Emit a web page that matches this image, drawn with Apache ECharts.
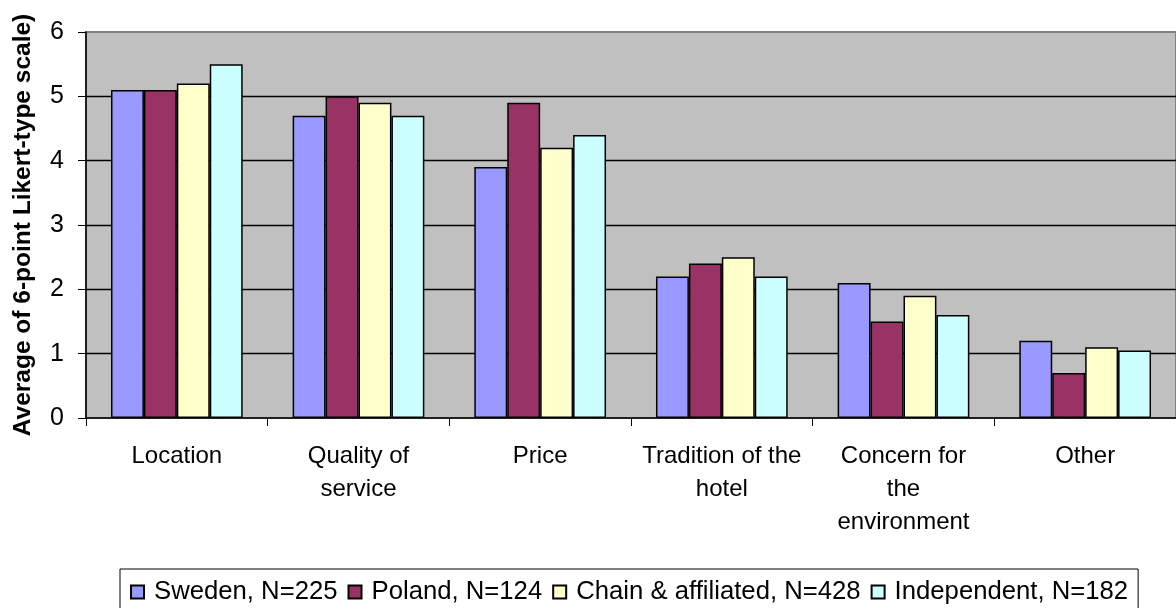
<!DOCTYPE html>
<html>
<head>
<meta charset="utf-8">
<script src="https://cdn.jsdelivr.net/npm/echarts@6/dist/echarts.min.js"></script>
<style>
html,body{margin:0;padding:0;background:#fff;}
#c{width:1176px;height:608px;}
</style>
</head>
<body>
<div id="c"></div>
<script>
const categories = ["Location", "Quality of\nservice", "Price", "Tradition of the\nhotel", "Concern for\nthe\nenvironment", "Other"];
const seriesNames = ["Sweden, N=225", "Poland, N=124", "Chain & affiliated, N=428", "Independent, N=182"];
const sweden = [5.1, 4.7, 3.9, 2.2, 2.1, 1.2];
const poland = [5.1, 5.0, 4.9, 2.4, 1.5, 0.7];
const chain = [5.2, 4.9, 4.2, 2.5, 1.9, 1.1];
const independent = [5.5, 4.7, 4.4, 2.2, 1.6, 1.05];
const yTicks = [0, 1, 2, 3, 4, 5, 6];
const colors = ["#9999FF", "#993366", "#FFFFCC", "#CCFFFF"];
const yAxisName = "Average of 6-point Likert-type scale)";

const values = [sweden, poland, chain, independent];
const FONT = '"Liberation Sans", Arial, sans-serif';

const chart = echarts.init(document.getElementById('c'), null, {renderer: 'canvas'});
chart.setOption({
  animation: false,
  backgroundColor: '#ffffff',
  grid: {
    left: 86, top: 32, width: 1093, bottom: 190,
    show: true, backgroundColor: '#c0c0c0', borderColor: '#808080', borderWidth: 2,
    containLabel: false
  },
  legend: {
    left: 120, top: 569, width: 1018,
    padding: [10, 10, 10, 10],
    itemGap: 10, itemWidth: 13, itemHeight: 13,
    icon: 'rect',
    backgroundColor: '#ffffff', borderColor: '#000000', borderWidth: 1,
    textStyle: {fontFamily: FONT, fontSize: 25.7, color: '#000', padding: [0, 0, 0, 5]},
    data: seriesNames
  },
  xAxis: {
    type: 'category',
    data: categories,
    axisLine: {show: true, lineStyle: {color: '#000', width: 1.5}},
    axisTick: {show: true, alignWithLabel: false, interval: 0, length: 8, lineStyle: {color: '#000', width: 1}},
    axisLabel: {interval: 0, margin: 22, fontFamily: FONT, fontSize: 24, color: '#000', lineHeight: 33},
    splitLine: {show: false}
  },
  yAxis: {
    type: 'value',
    min: yTicks[0], max: yTicks[yTicks.length - 1], interval: 1,
    name: yAxisName,
    nameLocation: 'middle', nameRotate: 90, nameGap: 50,
    nameTextStyle: {fontFamily: FONT, fontSize: 24.5, fontWeight: 'bold', color: '#000'},
    axisLine: {show: true, lineStyle: {color: '#000', width: 1.5}},
    axisTick: {show: true, length: 8, lineStyle: {color: '#000', width: 1}},
    axisLabel: {margin: 22, fontFamily: FONT, fontSize: 25, color: '#000'},
    splitLine: {show: true, showMaxLine: false, showMinLine: false, lineStyle: {color: '#000', width: 1.3}}
  },
  series: seriesNames.map((n, i) => ({
    name: n,
    type: 'bar',
    data: values[i],
    barGap: '0%',
    barCategoryGap: '27.5%',
    itemStyle: {color: colors[i], borderColor: '#000', borderWidth: 1.5}
  }))
});
</script>
</body>
</html>
